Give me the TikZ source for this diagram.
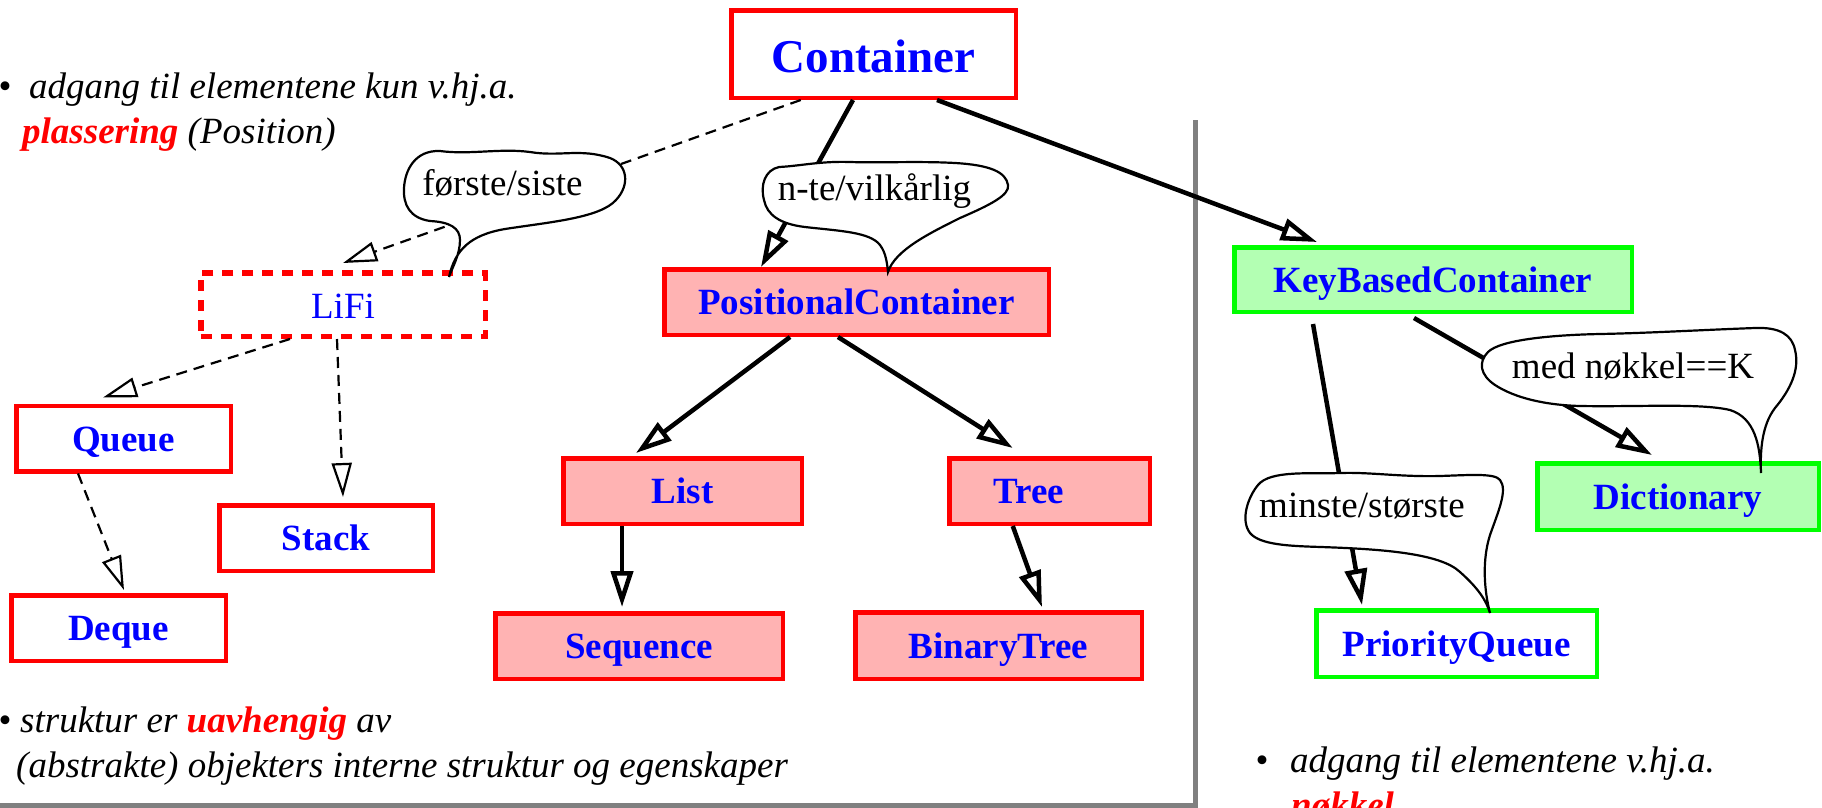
\documentclass[tikz,border=0pt]{standalone}
\usepackage{fontspec}
\setmainfont{Liberation Serif}
\usetikzlibrary{arrows.meta}
\definecolor{boxred}{RGB}{255,0,0}
\definecolor{boxblue}{RGB}{0,0,255}
\definecolor{pinkfill}{RGB}{255,179,179}
\definecolor{keygreen}{RGB}{0,255,0}
\definecolor{greenfill}{RGB}{179,255,179}
\definecolor{rulegray}{RGB}{128,128,128}
\newcommand\labelfont{\fontsize{37}{44}\selectfont}
\newcommand\titlefont{\fontsize{47}{56}\selectfont\bfseries}

\begin{document}
\begin{tikzpicture}[x=1pt,y=-1pt,
  classbox/.style={draw=boxred, line width=4.5pt, fill=white, inner sep=0pt,
    minimum height=65.5pt, text=boxblue, font=\labelfont\bfseries,
    text height=25pt, text depth=0pt},
  posbox/.style={classbox, fill=pinkfill},
  keybox/.style={classbox, draw=keygreen, fill=greenfill},
  keyplain/.style={classbox, draw=keygreen},
  ifacebox/.style={classbox, line width=5.5pt, dash pattern=on 11pt off 9pt,
    font=\labelfont, text height=27pt},
  inherit/.style={line width=4.5pt, -{Triangle[open, length=36pt, width=22pt]}},
  realize/.style={line width=2.2pt, dash pattern=on 11pt off 7pt,
    -{Triangle[open, length=34pt, width=20pt]}},
  bubble/.style={draw=black, line width=2.2pt, fill=white},
  bubbletext/.style={font=\labelfont, anchor=base, inner sep=0pt},
  notetext/.style={font=\labelfont\itshape, anchor=base west, inner sep=0pt},
  dot/.style={font=\labelfont, anchor=base, inner sep=0pt},
]
\fill[white] (0,0) rectangle (1822,807);
\useasboundingbox (0,0) rectangle (1822,807);

% divider between position-based and key-based containers
\draw[rulegray, line width=5pt] (-5,805) -- (1195,805) -- (1195,120);

% class boxes
\node[classbox, font=\titlefont, text height=36pt, minimum width=284.5pt,
  minimum height=87.5pt] (container) at (873.5,54) {Container};
\node[posbox, minimum width=384.5pt] (positional) at (856.5,302) {PositionalContainer};
\node[ifacebox, minimum width=284.5pt, minimum height=63.5pt] (lifi) at (343,304.5) {LiFi};
\node[classbox, minimum width=214.5pt] (queue) at (123.5,438.5) {Queue};
\node[classbox, minimum width=213.5pt] (stack) at (326,538) {Stack};
\node[classbox, minimum width=214.5pt] (deque) at (118.5,628) {Deque};
\node[posbox, minimum width=238.5pt] (list) at (682.5,491) {List};
\node[posbox, minimum width=200.5pt, text width=200.5pt, align=left] (tree)
  at (1049.5,491) {\hspace*{44.5pt}Tree};
\node[posbox, minimum width=287.5pt] (sequence) at (639,646) {Sequence};
\node[posbox, minimum width=286.5pt, minimum height=66.5pt] (binarytree)
  at (998.5,645.5) {BinaryTree};
\node[keybox, minimum width=397.5pt, minimum height=64.5pt] (keybased)
  at (1433,279.5) {KeyBasedContainer};
\node[keybox, minimum width=281.5pt, minimum height=66.5pt] (dictionary)
  at (1678,496.5) {Dictionary};
\node[keyplain, minimum width=280.5pt, minimum height=66.5pt] (pqueue)
  at (1456.5,643.5) {PriorityQueue};

% inheritance connectors
\draw[realize] ([xshift=71.75pt]container.south west) -- ([yshift=7pt]lifi.north);
\draw[inherit] ([xshift=-20.5pt]container.south) -- ([xshift=-95.5pt]positional.north);
\draw[inherit] ([xshift=63.5pt]container.south) -- ([xshift=85pt,yshift=3pt]keybased.north west);
\draw[inherit] ([xshift=-66.5pt]positional.south) -- ([xshift=75pt,yshift=3pt]list.north west);
\draw[inherit] ([xshift=-18.5pt]positional.south) -- ([xshift=65.75pt,yshift=8pt]tree.north west);
\draw[realize] ([xshift=-53pt]lifi.south) -- ([xshift=89pt,yshift=6pt]queue.north west);
\draw[realize] ([xshift=-6pt]lifi.south) -- ([xshift=17pt,yshift=6pt]stack.north);
\draw[realize] ([xshift=64pt]queue.south west) -- ([xshift=5.5pt,yshift=3pt]deque.north);
\draw[inherit] ([xshift=-60.5pt]list.south) -- ([xshift=-17pt,yshift=4pt]sequence.north);
\draw[inherit] ([xshift=65.75pt]tree.south west) -- ([xshift=43.5pt,yshift=3pt]binarytree.north);
\draw[inherit] ([xshift=81pt,yshift=-10pt]keybased.south west) -- ([xshift=48pt,yshift=3pt]pqueue.north west);
\draw[inherit] ([xshift=182pt,yshift=-4pt]keybased.south west) -- ([xshift=117pt,yshift=6pt]dictionary.north west);

% speech bubbles naming the access kind
\draw[bubble] (449,277)
  .. controls (455,250) and (470,235) .. (505,229)
  .. controls (550,222) and (600,218) .. (616,200)
  .. controls (630,185) and (628,165) .. (610,158)
  .. controls (580,148) and (560,157) .. (530,152)
  .. controls (500,148) and (470,155) .. (440,151)
  .. controls (415,150) and (405,170) .. (404,188)
  .. controls (403,205) and (410,218) .. (430,221)
  .. controls (450,222) and (460,228) .. (460,240)
  .. controls (460,255) and (452,268) .. (449,277) -- cycle;
\node[bubbletext] (firstlast) at (502.5,195) {første/siste};

\draw[bubble] (888,272)
  .. controls (895,250) and (930,233) .. (960,218)
  .. controls (990,205) and (1010,195) .. (1008,185)
  .. controls (1006,172) and (990,165) .. (955,163)
  .. controls (920,161) and (880,163) .. (850,162)
  .. controls (820,161) and (800,166) .. (779,167)
  .. controls (765,170) and (760,185) .. (764,200)
  .. controls (767,215) and (780,224) .. (805,227)
  .. controls (840,231) and (870,232) .. (880,245)
  .. controls (886,253) and (887,263) .. (888,272) -- cycle;
\node[bubbletext] (nth) at (874.5,200) {n-te/vilkårlig};

\draw[bubble] (1761,473)
  .. controls (1760,450) and (1762,425) .. (1775,408)
  .. controls (1790,390) and (1800,370) .. (1795,350)
  .. controls (1792,335) and (1780,327) .. (1755,328)
  .. controls (1700,330) and (1650,333) .. (1600,334)
  .. controls (1550,335) and (1500,340) .. (1488,352)
  .. controls (1478,362) and (1480,375) .. (1495,385)
  .. controls (1515,398) and (1545,405) .. (1580,406)
  .. controls (1640,407) and (1700,403) .. (1730,410)
  .. controls (1755,418) and (1760,445) .. (1761,473) -- cycle;
\node[bubbletext] (withkey) at (1633,378) {med nøkkel==K};

\draw[bubble] (1490,613)
  .. controls (1484,590) and (1482,560) .. (1490,535)
  .. controls (1498,512) and (1508,490) .. (1500,480)
  .. controls (1495,473) and (1470,475) .. (1440,476)
  .. controls (1400,477) and (1370,472) .. (1341,473)
  .. controls (1310,474) and (1270,470) .. (1258,485)
  .. controls (1248,497) and (1240,520) .. (1250,533)
  .. controls (1260,545) and (1290,546) .. (1321,547)
  .. controls (1380,549) and (1440,553) .. (1460,572)
  .. controls (1478,588) and (1486,600) .. (1490,613) -- cycle;
\node[bubbletext] (minmax) at (1362,517) {minste/største};

% explanatory notes
\node[dot] (bullet1) at (5,98) {•};
\node[notetext] (note1) at (29,98) {adgang til elementene kun v.hj.a.};
\node[notetext] (note2) at (22,143) {{\bfseries\color{boxred}plassering} (Position)};
\node[dot] (bullet2) at (5,732) {•};
\node[notetext] (note3) at (20,732) {struktur er {\bfseries\color{boxred}uavhengig} av};
\node[notetext] (note4) at (16,777) {(abstrakte) objekters interne struktur og egenskaper};
\node[dot] (bullet3) at (1262,772) {•};
\node[notetext] (note5) at (1290,772) {adgang til elementene v.hj.a.};
\node[notetext, text=boxred, font=\labelfont\itshape\bfseries] (note6) at (1291,817) {nøkkel};
\end{tikzpicture}
\end{document}
